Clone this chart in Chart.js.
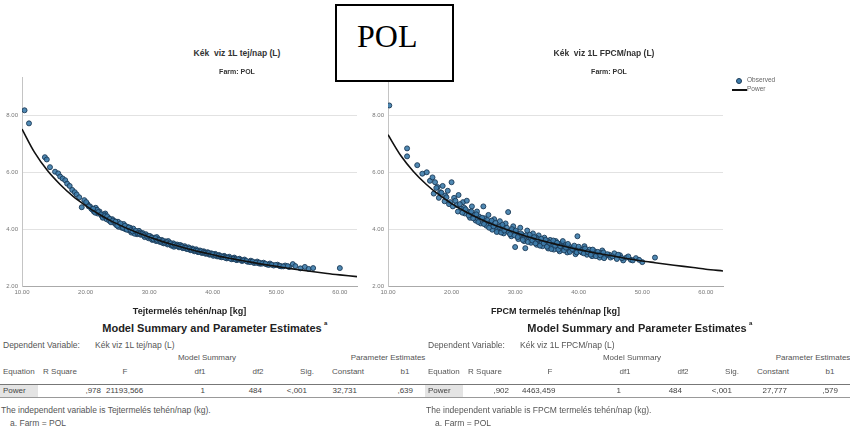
<!DOCTYPE html>
<html>
<head>
<meta charset="utf-8">
<script src="https://cdn.jsdelivr.net/npm/chart.js@4.4.1/dist/chart.umd.min.js"></script>
<style>
  body { margin:0; width:850px; height:433px; overflow:hidden; background:#fff;
         font-family:"Liberation Sans", Arial, sans-serif; position:relative; }
  .t { position:absolute; white-space:pre; line-height:1; color:#555; font-size:8px; }
  .ttl { position:absolute; white-space:pre; line-height:1; color:#333; font-weight:bold;
         transform:translate(-50%,-50%); }
  canvas { position:absolute; }
  #polbox { position:absolute; left:335px; top:4px; width:115px; height:74px;
            border:2px solid #000; background:#fff; }
  #polbox span { position:absolute; left:20px; top:14px; font-family:"Liberation Serif","Times New Roman",serif;
                 font-size:32px; line-height:1; color:#000; }
</style>
</head>
<body>
<canvas id="chartMilk" width="370" height="250" style="left:0;top:70px"></canvas>
<canvas id="chartFpcm" width="370" height="250" style="left:366px;top:70px"></canvas>

<div class="ttl" style="left:237px;top:53px;font-size:8.5px">Kék  viz 1L tej/nap (L)</div>
<div class="ttl" style="left:237px;top:71px;font-size:7px">Farm: POL</div>
<div class="ttl" style="left:604px;top:53px;font-size:8.5px">Kék  viz 1L FPCM/nap (L)</div>
<div class="ttl" style="left:609px;top:71px;font-size:7px">Farm: POL</div>

<div id="polbox"><span>POL</span></div>

<div id="legend" style="position:absolute;left:731px;top:77px;font-size:6.5px;color:#666;line-height:1">
  <div style="position:absolute;left:5px;top:1px;width:4px;height:4px;border-radius:50%;background:#3d7cab;border:0.8px solid #1b3a57"></div>
  <div style="position:absolute;left:16px;top:0;white-space:pre">Observed</div>
  <div style="position:absolute;left:1px;top:12px;width:15px;height:1.5px;background:#111"></div>
  <div style="position:absolute;left:16px;top:9px;white-space:pre">Power</div>
</div>

<div id="tables"></div>

<script>
// observed points [x, y]
const milkPoints = [
  [10.4,8.18],[11.1,7.72],[13.6,6.53],[13.9,6.45],[14.4,6.18],[15.2,6.02],[15.7,5.96],[16.0,5.85],
  [16.4,5.78],[16.8,5.72],[17.1,5.60],[17.5,5.52],[17.9,5.38],[18.3,5.30],[18.6,5.22],[19.0,5.12],
  [19.4,4.77],[19.8,5.02],[20.3,4.88],[20.7,4.80],[21.0,4.70],[21.3,4.62],[21.6,4.75],[21.9,4.55],
  [22.2,4.62],[22.5,4.48],[22.8,4.42],[23.1,4.55],[23.3,4.35],[23.6,4.40],[23.9,4.28],[24.2,4.35],
  [24.5,4.22],[24.8,4.15],[25.1,4.26],[25.4,4.12],[25.7,4.05],[26.0,4.18],[26.3,4.00],[26.6,4.08],
  [26.9,3.95],[27.2,3.88],[27.5,4.02],[27.8,3.90],[28.1,3.82],[28.4,3.94],[28.7,3.80],[29.0,3.86],
  [29.3,3.72],[29.6,3.78],[29.9,3.68],[30.2,3.75],[30.5,3.62],[30.8,3.70],[31.1,3.58],[31.4,3.66],
  [31.7,3.55],[32.0,3.62],[32.3,3.50],[32.6,3.57],[32.9,3.46],[33.2,3.53],[33.5,3.42],[33.8,3.50],
  [34.1,3.40],[34.4,3.46],[34.7,3.36],[35.0,3.43],[35.3,3.33],[35.6,3.40],[35.9,3.30],[36.2,3.36],
  [36.5,3.26],[36.8,3.32],[37.1,3.22],[37.4,3.29],[37.7,3.19],[38.0,3.25],[38.3,3.16],[38.6,3.22],
  [38.9,3.13],[39.2,3.19],[39.5,3.10],[39.8,3.15],[40.1,3.06],[40.4,3.13],[40.7,3.04],[41.0,3.09],
  [41.4,3.01],[41.8,3.06],[42.2,2.97],[42.6,3.03],[43.0,2.94],[43.4,3.00],[43.8,2.91],[44.2,2.96],
  [44.6,2.88],[45.0,2.93],[45.5,2.85],[46.0,2.89],[46.5,2.81],[47.0,2.86],[47.5,2.78],[48.0,2.82],
  [48.5,2.76],[49.0,2.79],[49.6,2.72],[50.2,2.75],[50.8,2.69],[51.4,2.72],[52.6,2.77],[53.0,2.70],
  [54.5,2.67],[55.1,2.60],[55.8,2.63],[60.0,2.63],
  [20.1,4.95],[20.9,4.72],[21.8,4.68],[22.9,4.52],[23.7,4.30],[24.6,4.28],[25.2,4.08],[26.1,4.02],
  [27.0,4.05],[27.7,3.84],[28.6,3.88],[29.5,3.82],[30.3,3.66],[31.2,3.72],[32.1,3.52],[33.0,3.58],
  [33.9,3.38],[34.8,3.44],[35.7,3.35],[36.6,3.30],[37.5,3.24],[38.4,3.20],[39.3,3.14],[40.2,3.10],
  [41.1,3.03],[42.0,3.02],[43.2,2.97],[44.4,2.92],[45.8,2.86],[47.2,2.80],[48.8,2.74],[50.5,2.71],
  [52.0,2.67],[53.8,2.62],
  [20.5,4.80],[21.2,4.72],[21.5,4.58],[22.0,4.60],[22.4,4.52],[22.7,4.40],[23.0,4.46],[23.4,4.45],
  [23.8,4.36],[24.0,4.24],[24.3,4.30],[24.7,4.26],[25.0,4.12],[25.5,4.20],[25.9,4.05],[26.2,4.12],
  [26.5,3.98],[26.8,4.06],[27.1,3.96],[27.4,3.92],[27.9,3.94],[28.2,3.86],[28.5,3.84],[28.9,3.82],
  [29.2,3.78],[29.7,3.74],[30.0,3.76],[30.4,3.70],[30.7,3.64],[31.0,3.68],[31.3,3.60],[31.6,3.62],
  [31.9,3.56],[32.2,3.58],[32.5,3.52],[32.8,3.54],[33.1,3.48],[33.4,3.50],[33.7,3.44],[34.0,3.46],
  [34.3,3.42],[34.6,3.40],[34.9,3.38],[35.2,3.39],[35.5,3.34],[35.8,3.34],[36.1,3.30],[36.4,3.32],
  [36.7,3.27],[37.0,3.28],[37.3,3.24],[37.6,3.24],[37.9,3.20],[38.2,3.22],[38.5,3.18],[38.8,3.17],
  [39.1,3.15],[39.4,3.16],[39.7,3.12],[40.0,3.12],[40.5,3.08],[40.9,3.06],[41.3,3.05],[41.6,3.02],
  [42.0,2.99],[42.4,3.00],[42.8,2.96],[43.3,2.96],[43.6,2.93],[44.0,2.94],[44.8,2.90],[45.3,2.88],
  [45.9,2.84],[46.3,2.86],[46.8,2.82],[47.4,2.82],[47.8,2.79],[48.3,2.78],[49.3,2.75],[49.9,2.74],
  [50.6,2.70],[51.1,2.69],[51.8,2.70]
];
const fpcmPoints = [
  [10.2,8.35],[13.0,6.84],[13.0,6.56],[14.6,6.25],[15.4,5.95],[16.1,6.00],[16.6,5.70],[17.0,5.82],
  [17.4,5.65],[17.8,5.48],[18.2,5.30],[18.6,5.52],[19.0,5.18],[19.4,5.35],[19.8,4.95],[20.0,5.65],
  [20.4,5.10],[20.8,4.85],[21.1,5.20],[21.5,4.72],[21.8,4.95],[22.1,4.55],[22.4,5.00],[22.6,4.62],
  [22.9,4.40],[23.2,4.80],[23.5,4.50],[23.8,4.30],[24.0,4.62],[24.3,4.45],[24.6,4.20],[25.0,4.80],
  [25.2,4.38],[25.5,4.12],[25.8,4.50],[26.1,4.25],[26.4,3.98],[26.7,4.35],[27.0,4.10],[27.3,3.92],
  [27.6,4.28],[27.9,4.02],[28.2,3.85],[28.5,4.20],[28.9,4.60],[29.1,3.95],[29.4,3.75],[29.7,4.10],
  [30.0,3.37],[30.2,3.88],[30.5,3.65],[30.8,4.05],[31.1,3.80],[31.4,3.58],[31.6,3.33],[31.9,3.95],
  [32.2,3.70],[32.5,3.52],[32.8,3.85],[33.1,3.62],[33.4,3.45],[33.7,3.78],[34.0,3.55],[34.3,3.40],
  [34.6,3.70],[34.9,3.48],[35.2,3.32],[35.5,3.62],[35.8,3.42],[36.1,3.28],[36.4,3.58],[36.7,3.38],
  [37.0,3.22],[37.3,3.50],[37.6,3.32],[37.9,3.45],[38.2,3.18],[38.5,3.40],[38.8,3.25],[39.1,3.35],
  [39.5,3.12],[39.8,3.75],[40.1,3.30],[40.5,3.18],[40.9,3.40],[41.3,3.10],[41.7,3.28],[42.1,3.05],
  [42.5,3.22],[42.9,3.12],[43.3,3.00],[43.7,3.25],[44.2,3.05],[45.0,3.00],[45.6,3.15],[46.0,2.95],
  [46.5,3.08],[47.0,2.90],[47.5,3.00],[48.2,2.92],[49.0,2.98],[50.0,2.84],[52.0,3.00],
  [22.0,4.75],[23.0,4.58],[24.1,4.38],[25.3,4.25],[26.2,4.15],[27.2,4.00],[28.1,4.08],[29.0,3.88],
  [29.8,3.92],[30.7,3.78],[31.5,3.72],[32.4,3.62],[33.3,3.70],[34.2,3.52],[35.1,3.58],[36.0,3.45],
  [36.9,3.48],[37.8,3.38],[38.7,3.30],[39.6,3.22],[40.6,3.28],[41.5,3.18],[42.4,3.12],[43.5,3.16],
  [44.8,3.10],
  [17.2,5.25],[17.6,5.45],[18.0,5.10],[18.4,5.28],[18.9,4.98],[19.2,5.12],[19.6,4.88],[20.2,4.80],
  [20.6,5.00],[21.0,4.62],[21.3,4.88],[21.7,4.58],[22.2,4.70],[22.7,4.48],[23.1,4.62],[23.4,4.38],
  [23.9,4.52],[24.2,4.25],[24.8,4.40],[25.1,4.18],[25.6,4.32],[25.9,4.05],[26.3,4.30],[26.6,4.10],
  [26.9,4.22],[27.1,3.90],[27.5,4.08],[27.8,3.88],[28.0,4.15],[28.3,3.95],[28.7,4.05],[29.2,3.82],
  [29.5,4.00],[29.9,3.78],[30.1,3.95],[30.4,3.72],[30.9,3.85],[31.2,3.62],[31.7,3.78],[32.0,3.55],
  [32.3,3.80],[32.7,3.60],[33.0,3.72],[33.2,3.50],[33.6,3.64],[33.9,3.42],[34.1,3.66],[34.5,3.50],
  [34.8,3.62],[35.0,3.38],[35.4,3.52],[35.7,3.30],[36.0,3.60],[36.3,3.42],[36.6,3.52],[36.8,3.28],
  [37.1,3.40],[37.5,3.58],[37.7,3.25],[38.0,3.35],[38.3,3.48],[38.6,3.20],[39.0,3.30],[39.3,3.42],
  [39.7,3.18],[40.0,3.38],[40.3,3.22],[40.8,3.15],[41.0,3.32],[41.4,3.20],[41.9,3.10],[42.2,3.28],
  [42.7,3.05],[43.0,3.20],[43.4,3.08],[43.9,3.18],[44.0,2.98],[44.5,3.12],[45.3,3.04],[46.2,3.10],
  [46.8,2.98],[47.8,3.04],[48.5,2.90],[49.5,2.92]
];

// fitted "Power" curves
const curveX    = [10, 12, 14, 16, 18, 20, 22, 24, 26, 28, 30, 32, 34, 36, 38, 40, 42, 44, 46, 48, 50, 52, 55, 58, 60, 62.7];
const milkPower = [7.52,6.69,6.06,5.57,5.16,4.83,4.54,4.29,4.08,3.89,3.72,3.57,3.44,3.31,3.20,3.10,3.00,2.92,2.84,2.76,2.69,2.62,2.53,2.44,2.39,2.33];
const fpcmPower = [7.32,6.59,6.03,5.58,5.21,4.90,4.64,4.41,4.21,4.04,3.88,3.73,3.61,3.49,3.38,3.28,3.19,3.11,3.03,2.95,2.88,2.82,2.73,2.65,2.59,2.53];

// model summary tables
const tableHead  = ["Equation", "R Square", "F", "df1", "df2", "Sig.", "Constant", "b1"];
const milkRow    = ["Power", ",978", "21193,566", "1", "484", "<,001", "32,731", ",639"];
const fpcmRow    = ["Power", ",902", "4463,459", "1", "484", "<,001", "27,777", ",579"];

const FONT = '"Liberation Sans", Arial, sans-serif';

function makeChart(id, pts, powerY, xTitle){
  return new Chart(document.getElementById(id), {
    data: {
      datasets: [
        { type:"line", label:"Power", data: curveX.map((x, i) => ({ x, y: powerY[i] })),
          borderColor:"#111", borderWidth:1.6, pointRadius:0, tension:0.3, fill:false, order:0 },
        { type:"scatter", label:"Observed", data: pts.map(p => ({ x:p[0], y:p[1] })),
          backgroundColor:"rgba(61,124,171,0.9)", borderColor:"#1b3a57", borderWidth:0.9,
          pointRadius:2.5, order:1 }
      ]
    },
    options: {
      responsive:false, animation:false,
      layout:{ padding:{ top:7, right:13, left:0, bottom:0 } },
      plugins:{ legend:{ display:false }, tooltip:{ enabled:false } },
      scales:{
        x:{
          type:"linear", min:10, max:62.7,
          ticks:{ stepSize:10, includeBounds:false, autoSkip:false, maxRotation:0, padding:3,
                  callback: v => v.toFixed(2), font:{ size:6, family:FONT }, color:"#777" },
          grid:{ display:false, drawTicks:false },
          border:{ color:"#aaa", width:1 },
          title:{ display:true, text:xTitle, color:"#222", font:{ size:9, weight:"bold", family:FONT },
                  padding:{ top:4, bottom:3 } },
          afterFit: s => { s.height = 34; }
        },
        y:{
          min:2, max:9.33,
          ticks:{ stepSize:2, includeBounds:false, padding:4,
                  callback: v => v.toFixed(2), font:{ size:6, family:FONT }, color:"#777" },
          grid:{ color:"#e2e2e2", drawTicks:false },
          border:{ color:"#c4c4c4", width:1 },
          afterFit: s => { s.width = 22; }
        }
      }
    }
  });
}

makeChart("chartMilk", milkPoints, milkPower, "Tejtermelés tehén/nap [kg]");
makeChart("chartFpcm", fpcmPoints, fpcmPower, "FPCM termelés tehén/nap [kg]");

// tables
const host = document.getElementById("tables");
function put(text, x, y, align, extra){
  const d = document.createElement("div");
  d.className = "t";
  d.textContent = text;
  const tx = align === "c" ? "-50%" : align === "r" ? "-100%" : "0";
  d.style.left = x + "px";
  d.style.top = y + "px";
  d.style.transform = "translate(" + tx + ",-50%)";
  if (extra) Object.assign(d.style, extra);
  host.appendChild(d);
  return d;
}
function box(x, y, w, h, bg){
  const d = document.createElement("div");
  Object.assign(d.style, { position:"absolute", left:x+"px", top:y+"px", width:w+"px", height:h+"px", background:bg });
  host.appendChild(d);
}

const headX = [3, 60, 125, 200, 258, 307, 348, 405];
const headAlign = ["l", "c", "c", "c", "c", "c", "c", "c"];

function drawTable(ox, row, valueX, depText, indepText){
  put("Model Summary and Parameter Estimates", ox + 212, 328, "c",
      { fontWeight:"bold", fontSize:"11px", color:"#222" });
  put("a", ox + 324, 323, "l", { fontWeight:"bold", fontSize:"6px", color:"#222" });
  put("Dependent Variable:", ox + 3, 345, "l", { fontSize:"8.5px" });
  put(depText, ox + 95, 345, "l", { fontSize:"8.5px" });
  put("Model Summary", ox + 207, 358, "c");
  put("Parameter Estimates", ox + 388, 358, "c");
  tableHead.forEach((h, i) => put(h, ox + headX[i], 372, headAlign[i]));
  box(ox, 384, 38, 13, "#e4e4e4");
  box(ox, 383.5, 425, 1, "#777");
  box(ox, 397, 425, 1, "#999");
  row.forEach((v, i) => put(v, ox + valueX[i][0], 391, valueX[i][1], { color:"#444" }));
  put("The independent variable is " + indepText, ox + 1, 410, "l", { fontSize:"8.5px" });
  put("a. Farm = POL", ox + 10, 423, "l", { fontSize:"8.5px" });
}

drawTable(0, milkRow,
  [[3,"l"],[101,"r"],[106,"l"],[205,"r"],[262,"r"],[307,"r"],[357,"r"],[413,"r"]],
  "Kék viz 1L tej/nap (L)", "Tejtermelés tehén/nap (kg).");
drawTable(425, fpcmRow,
  [[3,"l"],[84,"r"],[97,"l"],[196,"r"],[257,"r"],[307,"r"],[362,"r"],[413,"r"]],
  "Kék viz 1L FPCM/nap (L)", "FPCM termelés tehén/nap (kg).");
</script>
</body>
</html>
